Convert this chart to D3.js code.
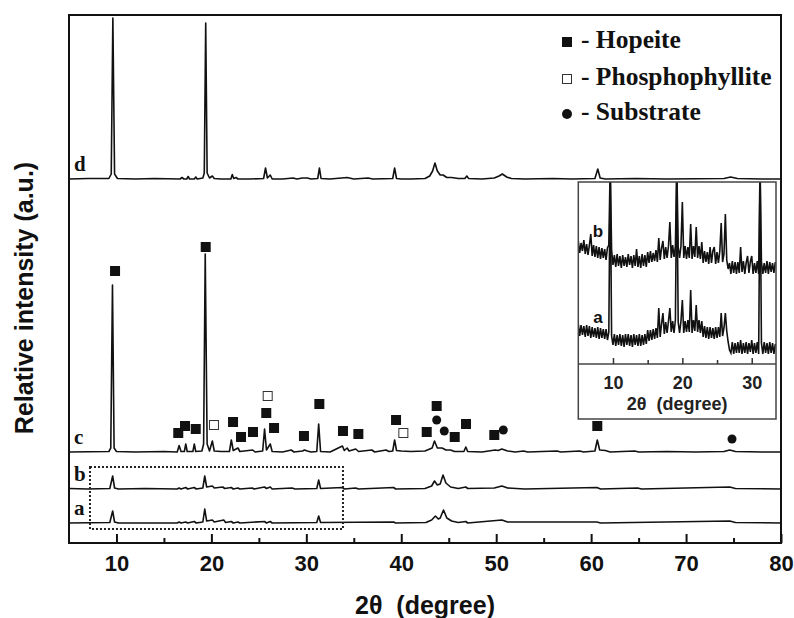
<!DOCTYPE html>
<html><head><meta charset="utf-8">
<script src="https://cdn.jsdelivr.net/npm/d3@7"></script>
<style>html,body{margin:0;padding:0;background:#fff;} svg{display:block}</style>
</head><body><svg id="chart" width="794" height="618"></svg>
<script>
// ---------------- DATA ----------------
const seriesNames = ["a", "b", "c", "d"];
// vertical offsets of the stacked patterns (intensity units)
const seriesOffsets = { a: 20, b: 54, c: 91, d: 364 };

// [2theta, relative intensity]
const traceD = [[5,0],[7,0.5],[9.2,0.5],[9.45,5],[9.62,161],[9.8,5],[10.1,0.5],[12,0],[14,0.5],[16.7,0],[16.9,1.5],[17.1,0],[17.4,0],[17.55,2.5],[17.7,0],[18.2,0],[18.35,2],[18.5,0],[19.1,1],[19.25,6],[19.4,156],[19.55,6],[19.8,1],[20.1,3],[20.3,0.5],[21,0],[22.05,0],[22.2,4.5],[22.35,0.5],[22.6,1.5],[22.8,0],[24,0],[25.5,0.5],[25.7,11],[25.9,1],[26.2,4],[26.4,0],[27.5,0],[28.6,1],[29,0],[29.6,1],[30.1,1],[30.5,0],[31.2,0.5],[31.38,11],[31.55,0.5],[32.5,0],[34.3,1.5],[35,0],[36.5,1],[37,0],[39.1,0.5],[39.3,11],[39.5,0.5],[40,0],[41,0],[42.5,0.5],[43.0,3],[43.3,8],[43.55,16],[43.8,8],[44.1,4],[44.4,4],[44.8,1.5],[45.3,1.5],[46,0.5],[46.7,0.5],[46.9,3],[47.1,0.5],[48.5,0],[49.8,1],[50.3,3],[50.65,5],[51.1,2],[51.6,0.5],[53,0],[56,0.5],[58,0],[60.4,0.5],[60.7,10],[60.95,1],[61.5,0],[64.7,0.5],[68,0],[74,0.5],[74.7,2],[75.4,0.5],[78,0],[80,0]];

const traceC = [[5,0],[9.2,0.5],[9.4,4],[9.58,167],[9.75,4],[10.0,0.5],[12,0],[15,0.5],[16.4,0],[16.6,6.5],[16.8,0.5],[17.15,0.5],[17.3,8],[17.45,0.5],[18.05,0.5],[18.2,8],[18.35,0.5],[19.0,1],[19.18,8],[19.35,198],[19.55,8],[19.8,1],[20.1,11],[20.3,1],[21,0.5],[21.9,0.5],[22.1,12],[22.3,1.5],[22.8,4],[23.0,0.5],[24.35,2],[24.6,0],[25.4,1],[25.6,23],[25.8,2],[26.2,8],[26.4,0.5],[27.5,0],[28.4,2],[28.7,0],[29.6,1],[29.8,2],[30.1,1],[30.5,0],[31.1,0.5],[31.3,28],[31.5,0.5],[32.5,0],[33.8,6],[34.0,1.5],[34.3,4],[34.5,1],[35.2,3],[35.5,0.5],[36.9,2],[37.2,0],[38.4,2],[38.7,0.5],[39.1,1],[39.3,12],[39.5,1.5],[40,1],[41,0.5],[42.5,1],[43.0,3],[43.25,4],[43.5,11],[43.8,4],[44.3,4],[44.7,2],[45.2,2],[45.6,0.5],[46.6,0.5],[46.8,5],[47.0,0.5],[48.5,0],[49.9,2],[50.2,1.5],[50.6,3],[51.2,1],[52,0],[52.9,1],[53.3,0],[56.4,1],[56.8,0],[58.8,1],[59.2,0],[60.4,1],[60.65,12],[60.9,2],[61.5,1.5],[62,0],[64.6,1],[65,0],[68,0.5],[71,0],[74.0,0.5],[74.6,2],[75.2,0.5],[78,0],[80,0]];

const traceB = [[5,0.5],[7,0],[9.3,0.5],[9.6,13],[9.8,1],[10.2,0],[13,0.5],[16.4,0],[16.6,1],[16.8,0],[17.3,1.5],[17.5,0],[18.2,1.5],[18.4,0],[19.1,1],[19.3,13],[19.5,2],[20.1,3],[20.3,1],[21.2,2],[21.4,0.5],[22.1,1.5],[22.3,0],[22.8,1],[23,0],[24.3,1],[24.5,0],[25.6,2],[25.8,0.5],[26.2,2],[26.4,0],[28.5,1],[28.8,0],[31.1,0.5],[31.3,9],[31.5,0.5],[33.8,1.5],[34,0],[35.2,1],[35.5,0],[39.2,1.5],[39.4,0],[42.5,0.5],[43.2,3],[43.5,8],[43.8,4],[44.1,5],[44.4,14],[44.7,6],[45.2,2],[46,0.5],[46.8,2],[47,0.5],[49.8,1],[50.6,3],[51.2,1],[53,0],[60.6,1.5],[61,0],[64.9,1],[65.3,0],[74.6,2],[75.2,0.5],[80,0]];

const traceA = [[5,0],[9.3,0.5],[9.6,12],[9.8,1],[10.2,0],[16.4,0],[16.6,1],[16.8,0],[17.3,1],[17.5,0],[18.2,1.5],[18.4,0],[19.1,1],[19.3,14],[19.5,2],[20.1,3],[20.3,1],[21.3,3],[21.5,0.5],[22.1,1.5],[22.3,0],[22.8,1],[23,0],[25.6,1.5],[25.8,0],[26.2,1.5],[26.4,0],[31.1,0.5],[31.3,7],[31.5,0.5],[39.2,1],[39.4,0],[42.6,0.5],[43.2,3],[43.6,7],[43.9,4],[44.1,5],[44.45,13],[44.8,5],[45.3,2],[46,0.5],[46.8,1.5],[47,0],[50.6,3],[51.2,1],[60.6,1],[61,0],[74.6,2],[75.2,0.5],[80,0]];

// phase markers above pattern c: [2theta, height above c baseline]
const hopeiteMarks = [[9.85,181],[19.4,205],[16.51,19],[17.22,26],[18.35,23],[22.28,30],[23.12,15],[24.38,20],[25.78,39],[26.6,24],[29.75,16],[31.37,48],[33.86,21],[35.48,18],[39.45,32],[42.68,20],[43.73,46],[45.63,15],[46.82,28],[49.8,17],[60.65,26]];
const phosphophylliteMarks = [[20.27,27],[25.93,56],[40.22,19]];
const substrateMarks = [[43.73,32],[44.53,21],[50.75,22],[74.84,13]];

const legendLabels = ["- Hopeite", "- Phosphophyllite", "- Substrate"];
const xMajorTicks = [10,20,30,40,50,60,70,80];
const xMinorTicks = [15,25,35,45,55,65,75];

// inset (low-angle zoom of patterns a and b), sampled every 0.2 deg from 5.0
const insetStart = 5.0, insetStep = 0.2;
const insetB = [
123,111,121,113,124, 110,120,109,119,130, 108,119,107,118,106, 117,105,116,106,115,
104,116,119,200,114, 99,109,97,110,98, 108,96,109,98,107, 97,110,99,108,96,
109,98,115,97,108, 96,110,98,109,97, 112,101,113,102,111, 103,114,102,126,104,
116,123,105,117,106, 118,142,106,119,107, 118,200,117,106,118, 162,106,118,105,117,
106,140,105,118,107, 137,106,118,105,122, 101,113,102,112,100, 117,101,113,117,100,
112,101,113,141,102, 110,150,104,95,101, 90,103,91,102,90, 102,91,117,92,103,
90,101,108,91,102, 108,90,101,91,103, 90,200,102,90,101, 91,103,90,102,92, 101,91,102];
const insetA = [
40,28,39,29,38, 27,39,28,38,26, 37,27,36,26,37, 25,36,26,35,25,
35,24,32,200,28, 19,30,18,29,19, 30,18,29,17,30, 19,30,18,29,17,
30,19,29,18,30, 18,29,19,30,20, 34,23,34,24,35, 25,36,26,56,27,
40,51,30,42,31, 43,56,32,43,31, 44,200,42,31,43, 64,31,43,32,44,
32,74,31,44,33, 59,32,44,31,43, 27,38,26,37,25, 37,26,36,25,37,
26,37,27,51,28, 36,51,33,22,14, 11,22,10,21,11, 22,11,24,10,21,
11,22,10,21,12, 24,10,21,11,22, 10,200,21,10,22, 11,21,10,22,11, 21,10,20];
const insetTicks = [10,20,30];
const insetMinorTicks = [15,25];

// ---------------- LAYOUT ----------------
const M = { left: 69, right: 781, top: 15, bottom: 543 };
const inset = { left: 578.3, right: 776, top: 182, plotBottom: 364, boxBottom: 419 };
const box = { x0: 7.21, x1: 33.86, y0: 14, y1: 76 }; // dotted region (data units)
const SANS = "'Liberation Sans', Arial, sans-serif";
const SERIF = "'Liberation Serif', 'Times New Roman', serif";

const svg = d3.select("#chart");
const x = d3.scaleLinear().domain([5, 80]).range([M.left, M.right]);
const y = d3.scaleLinear().domain([0, 528]).range([M.bottom, M.top]);

svg.append("defs").append("clipPath").attr("id", "mainClip")
  .append("rect").attr("x", M.left).attr("y", M.top)
  .attr("width", M.right - M.left).attr("height", M.bottom - M.top);

const traces = { a: traceA, b: traceB, c: traceC, d: traceD };
const plot = svg.append("g").attr("clip-path", "url(#mainClip)");
seriesNames.forEach(name => {
  const off = seriesOffsets[name];
  const line = d3.line().x(d => x(d[0])).y(d => y(d[1] + off));
  plot.append("path").datum(traces[name]).attr("d", line)
    .attr("fill", "none").attr("stroke", "#111").attr("stroke-width", 1.6)
    .attr("stroke-linejoin", "round");
});

// pattern labels
seriesNames.forEach(name => {
  svg.append("text").attr("x", 74).attr("y", y(seriesOffsets[name] + 8))
    .attr("font-family", SERIF).attr("font-weight", "bold").attr("font-size", 21)
    .attr("fill", "#111").text(name);
});

// markers
const cOff = seriesOffsets.c;
const sq = 10;
plot.selectAll("rect.hop").data(hopeiteMarks).enter().append("rect")
  .attr("x", d => x(d[0]) - sq/2).attr("y", d => y(d[1] + cOff) - sq/2)
  .attr("width", sq).attr("height", sq).attr("fill", "#111");
plot.selectAll("rect.pho").data(phosphophylliteMarks).enter().append("rect")
  .attr("x", d => x(d[0]) - sq/2 + 0.5).attr("y", d => y(d[1] + cOff) - sq/2 + 0.5)
  .attr("width", sq - 1).attr("height", sq - 1).attr("fill", "#fff")
  .attr("stroke", "#333").attr("stroke-width", 1);
plot.selectAll("circle.sub").data(substrateMarks).enter().append("circle")
  .attr("cx", d => x(d[0])).attr("cy", d => y(d[1] + cOff)).attr("r", 4.5)
  .attr("fill", "#111");

// dotted region
svg.append("rect").attr("x", x(box.x0)).attr("y", y(box.y1))
  .attr("width", x(box.x1) - x(box.x0)).attr("height", y(box.y0) - y(box.y1))
  .attr("fill", "none").attr("stroke", "#222").attr("stroke-width", 2)
  .attr("stroke-dasharray", "2,2");

// legend
const legY = [42, 79, 114];
svg.append("rect").attr("x", 562).attr("y", legY[0] - 5).attr("width", 10).attr("height", 10).attr("fill", "#111");
svg.append("rect").attr("x", 562.5).attr("y", legY[1] - 4.5).attr("width", 9).attr("height", 9)
  .attr("fill", "#fff").attr("stroke", "#333").attr("stroke-width", 1);
svg.append("circle").attr("cx", 567).attr("cy", legY[2]).attr("r", 5).attr("fill", "#111");
legendLabels.forEach((t, i) => {
  svg.append("text").attr("x", 581).attr("y", legY[i] + 6)
    .attr("font-family", SERIF).attr("font-weight", "bold").attr("font-size", 25.5)
    .attr("fill", "#111").text(t);
});

// frame
svg.append("rect").attr("x", M.left).attr("y", M.top)
  .attr("width", M.right - M.left).attr("height", M.bottom - M.top)
  .attr("fill", "none").attr("stroke", "#111").attr("stroke-width", 2);

// x axis
const ax = svg.append("g").attr("transform", `translate(0,${M.bottom})`)
  .call(d3.axisBottom(x).tickValues(xMajorTicks).tickSize(-9).tickPadding(12).tickFormat(d3.format("d")));
ax.select(".domain").remove();
ax.selectAll("line").attr("stroke", "#111").attr("stroke-width", 2);
ax.selectAll("text").attr("font-family", SANS).attr("font-weight", "bold").attr("font-size", 22).attr("fill", "#111");
const axm = svg.append("g").attr("transform", `translate(0,${M.bottom})`)
  .call(d3.axisBottom(x).tickValues(xMinorTicks).tickSize(-5).tickFormat(""));
axm.select(".domain").remove();
axm.selectAll("line").attr("stroke", "#111").attr("stroke-width", 2);

svg.append("text").attr("x", (M.left + M.right) / 2).attr("y", 614).attr("text-anchor", "middle")
  .attr("font-family", SANS).attr("font-weight", "bold").attr("font-size", 25).attr("fill", "#111")
  .attr("xml:space", "preserve").text("2θ  (degree)");
svg.append("text").attr("transform", `translate(33,${298}) rotate(-90)`).attr("text-anchor", "middle")
  .attr("font-family", SANS).attr("font-weight", "bold").attr("font-size", 25).attr("fill", "#111")
  .text("Relative intensity (a.u.)");

// ---------------- INSET ----------------
const xi = d3.scaleLinear().domain([5, 33.5]).range([inset.left, inset.right]);
const yi = d3.scaleLinear().domain([0, 182]).range([inset.plotBottom, inset.top]);
svg.append("rect").attr("x", inset.left).attr("y", inset.top)
  .attr("width", inset.right - inset.left).attr("height", inset.boxBottom - inset.top)
  .attr("fill", "#fff");
svg.select("defs").append("clipPath").attr("id", "insetClip")
  .append("rect").attr("x", inset.left).attr("y", inset.top)
  .attr("width", inset.right - inset.left).attr("height", inset.plotBottom - inset.top);
const ig = svg.append("g").attr("clip-path", "url(#insetClip)");
const insetData = { a: insetA, b: insetB };
["a", "b"].forEach(name => {
  const line = d3.line().x((d, i) => xi(insetStart + i * insetStep)).y(d => yi(d));
  ig.append("path").datum(insetData[name]).attr("d", line)
    .attr("fill", "none").attr("stroke", "#111").attr("stroke-width", 1.6).attr("stroke-linejoin", "miter");
});
svg.append("text").attr("x", 598).attr("y", 237).attr("text-anchor", "middle")
  .attr("font-family", SANS).attr("font-weight", "bold").attr("font-size", 17).attr("fill", "#111").text("b");
svg.append("text").attr("x", 598).attr("y", 323).attr("text-anchor", "middle")
  .attr("font-family", SANS).attr("font-weight", "bold").attr("font-size", 17).attr("fill", "#111").text("a");
svg.append("rect").attr("x", inset.left).attr("y", inset.top)
  .attr("width", inset.right - inset.left).attr("height", inset.boxBottom - inset.top)
  .attr("fill", "none").attr("stroke", "#444").attr("stroke-width", 1.5);
svg.append("line").attr("x1", inset.left).attr("x2", inset.right)
  .attr("y1", inset.plotBottom).attr("y2", inset.plotBottom).attr("stroke", "#444").attr("stroke-width", 1.5);
const iax = svg.append("g").attr("transform", `translate(0,${inset.plotBottom})`)
  .call(d3.axisBottom(xi).tickValues(insetTicks).tickSize(-6).tickPadding(12).tickFormat(d3.format("d")));
iax.select(".domain").remove();
iax.selectAll("line").attr("stroke", "#333").attr("stroke-width", 1.5);
iax.selectAll("text").attr("font-family", SANS).attr("font-weight", "bold").attr("font-size", 18).attr("fill", "#222");
const iaxm = svg.append("g").attr("transform", `translate(0,${inset.plotBottom})`)
  .call(d3.axisBottom(xi).tickValues(insetMinorTicks).tickSize(-4).tickFormat(""));
iaxm.select(".domain").remove();
iaxm.selectAll("line").attr("stroke", "#333").attr("stroke-width", 1.5);
svg.append("text").attr("x", (inset.left + inset.right) / 2).attr("y", 410).attr("text-anchor", "middle")
  .attr("font-family", SANS).attr("font-weight", "bold").attr("font-size", 18).attr("fill", "#222")
  .attr("xml:space", "preserve").text("2θ  (degree)");
</script></body></html>
